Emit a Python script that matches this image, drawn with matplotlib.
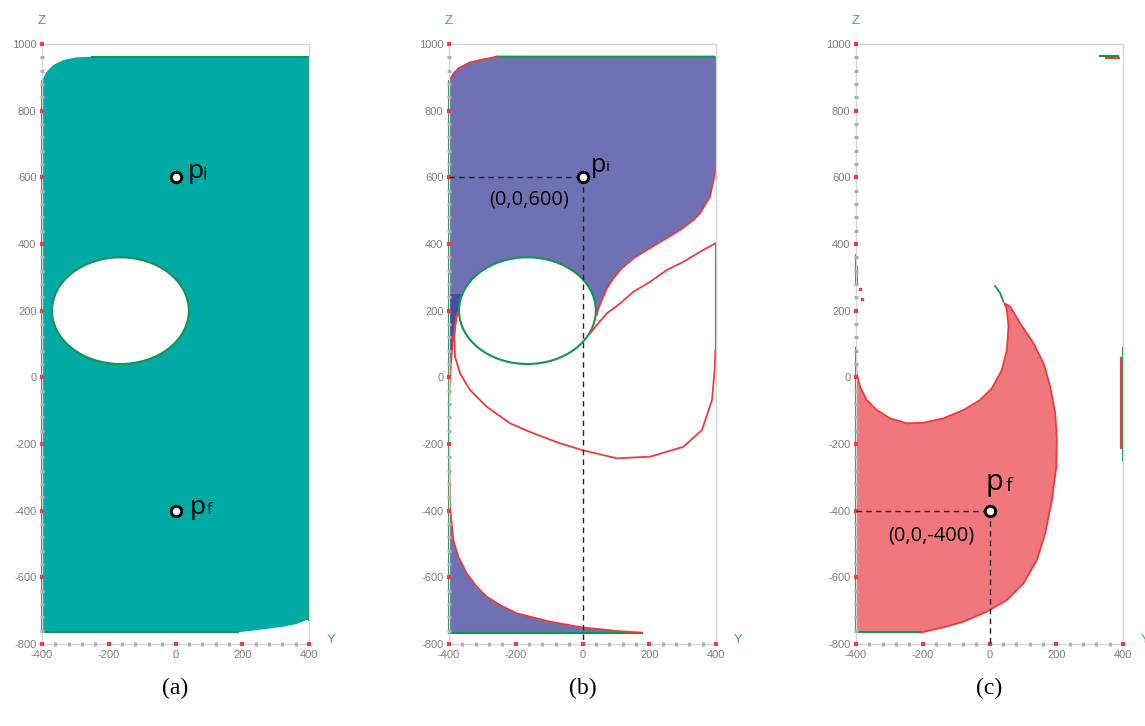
import matplotlib
matplotlib.use('Agg')
import matplotlib.pyplot as plt
from matplotlib.patches import Ellipse
from matplotlib.ticker import MultipleLocator, FixedLocator

plt.rcParams['axes.unicode_minus'] = False

# ---------------- data ----------------
Y_TICKS = [-400, -200, 0, 200, 400]
Z_TICKS = [-800, -600, -400, -200, 0, 200, 400, 600, 800, 1000]
Y_LIM = (-400, 400)
Z_LIM = (-800, 1000)
PANEL_LABELS = ['(a)', '(b)', '(c)']

# obstacle (elliptic hole)
HOLE_Y, HOLE_Z = -165, 200
HOLE_W, HOLE_H = 410, 320

# points
P_INIT = (0, 600)
P_FINAL = (0, -400)
P_INIT_TXT = '(0,0,600)'
P_FINAL_TXT = '(0,0,-400)'

# panel (a): reachable workspace outline
A_Y = [-400, -386, -366, -336, -296, -251, 398, 400, 393, 363, 323, 263, 186, -400]
A_Z = [890, 917, 937, 952, 960, 962, 962, -728, -728, -740, -748, -756, -765, -765]
A_GREEN_LEFT_Y, A_GREEN_LEFT_Z = [-400, -400], [890, -765]
A_GREEN_TOP_Y, A_GREEN_TOP_Z = [-251, 398], [962, 962]
A_GREEN_RIGHT_Y, A_GREEN_RIGHT_Z = [400, 400], [962, -728]
A_GREEN_BOT_Y, A_GREEN_BOT_Z = [-400, 186], [-765, -765]

# panel (b): upper blue region
B_TOPLEFT_Y = [-400, -386, -372, -337, -297, -257]
B_TOPLEFT_Z = [890, 912, 927, 945, 954, 962]
B_RIGHT_RED_Y = [400, 398, 392, 382, 352, 333, 293, 243, 193, 153, 118, 93, 73, 58, 48, 43]
B_RIGHT_RED_Z = [647, 620, 587, 542, 492, 472, 442, 412, 382, 357, 327, 297, 267, 232, 207, 187]
B_HOLE_LINK_Y = [-165, -355, -400]
B_HOLE_LINK_Z = [200, 250, 250]
# dark wedge along left edge
B_DARK_Y = [-400, -362, -370, -374, -385, -394, -400]
B_DARK_Z = [250, 250, 220, 187, 120, 60, 30]
B_LEFT_RED_Y = [-400, -397, -392, -386, -379, -374]
B_LEFT_RED_Z = [-90, 0, 70, 130, 175, 195]
# red curve from hole to right edge
B_MID_RED_Y = [23, 43, 73, 113, 153, 203, 253, 303, 353, 398]
B_MID_RED_Z = [132, 157, 192, 222, 257, 287, 322, 347, 377, 402]
# red loop
B_LOOP_Y = [-379, -384, -382, -367, -337, -287, -217, -147, -67, -2, 103, 203, 303, 358, 388, 396, 398]
B_LOOP_Z = [182, 122, 62, 12, -38, -88, -138, -168, -198, -218, -243, -238, -208, -158, -68, 22, 82]
B_RIGHT_GREEN_Y, B_RIGHT_GREEN_Z = [400, 400], [402, 82]
# lower blue region boundary (red curve)
B_LOW_Y = [-399, -397, -387, -372, -347, -317, -287, -247, -197, -97, -2, 103, 178]
B_LOW_Z = [-258, -388, -488, -538, -588, -628, -658, -683, -708, -733, -750, -761, -766]
B_GREEN_TOP_Y, B_GREEN_TOP_Z = [-257, 395, 400], [962, 962, 958]
B_GREEN_RIGHT_Y, B_GREEN_RIGHT_Z = [400, 400], [958, 647]
B_GREEN_LEFT_Y, B_GREEN_LEFT_Z = [-400, -400], [890, -765]
B_GREEN_BOT_Y, B_GREEN_BOT_Z = [-400, 178], [-767, -767]

# panel (c): red region (clockwise from left edge)
C_UPPER_Y = [-400, -398, -388, -368, -338, -298, -248, -198, -138, -78, -28, 7, 37, 52, 57, 52, 47, 45]
C_UPPER_Z = [57, 12, -28, -68, -98, -123, -138, -136, -123, -98, -68, -33, 22, 82, 152, 202, 217, 222]
C_RIGHT_Y = [45, 62, 92, 132, 162, 182, 197, 202, 200, 187, 167, 142, 102, 52, -8, -78, -138, -208]
C_RIGHT_Z = [222, 212, 162, 102, 42, -28, -108, -188, -268, -368, -468, -548, -618, -668, -703, -733, -750, -766]
C_HOOK_Y, C_HOOK_Z = [17, 32, 42], [274, 252, 227]
C_GREEN_BOT_Y, C_GREEN_BOT_Z = [-400, -208], [-765, -765]
C_GREEN_LEFT_Y, C_GREEN_LEFT_Z = [-400, -400], [-765, 87]
C_GREEN_LEFT2_Y, C_GREEN_LEFT2_Z = [-400, -400], [367, 282]
C_RED_LEFT2_Y, C_RED_LEFT2_Z = [-397, -397], [330, 280]
C_RED_DOTS_Y, C_RED_DOTS_Z = [-388, -381], [264, 236]
C_GREEN_RIGHT_Y, C_GREEN_RIGHT_Z = [400, 400], [87, -248]
C_RED_RIGHT_Y, C_RED_RIGHT_Z = [395, 395], [57, -213]
C_TOP_GREEN_Y, C_TOP_GREEN_Z = [331, 385], [963, 963]
C_TOP_RED_Y, C_TOP_RED_Z = [350, 388], [958, 958]

# ---------------- style ----------------
TEAL = '#00ABA6'
BLUE = '#6E72B4'
DARK_BLUE = '#4050A2'
RED_FILL = '#F0787C'
RED = '#EE3A3E'
GREEN = '#139450'
AXGREEN = '#3AAA6C'
TICKGRAY = '#7E7E7E'

W, H = 1145, 726
fig = plt.figure(figsize=(W / 100, H / 100), dpi=100)

LEFTS_PX = [42, 449, 856]
AX_W_PX, AX_TOP_PX, AX_BOT_PX = 267, 44, 644

axes = []
for lp in LEFTS_PX:
    ax = fig.add_axes([lp / W, (H - AX_BOT_PX) / H, AX_W_PX / W, (AX_BOT_PX - AX_TOP_PX) / H])
    ax.set_xlim(*Y_LIM)
    ax.set_ylim(*Z_LIM)
    ax.set_axisbelow(False)
    ax.xaxis.set_major_locator(FixedLocator(Y_TICKS))
    ax.yaxis.set_major_locator(FixedLocator(Z_TICKS))
    ax.xaxis.set_minor_locator(MultipleLocator(40))
    ax.yaxis.set_minor_locator(MultipleLocator(40))
    ax.set_xticklabels([str(t) for t in Y_TICKS])
    ax.set_yticklabels([str(t) for t in Z_TICKS])
    ax.tick_params(which='major', direction='inout', length=3.4, width=3.0, color='#EC4040',
                   labelsize=8, labelcolor=TICKGRAY, pad=2.3)
    ax.tick_params(which='minor', direction='inout', length=2.4, width=2.2, color='#B0B0B0')
    for lab in ax.get_xticklabels() + ax.get_yticklabels():
        lab.set_fontfamily('Liberation Sans')
    for s in ax.spines.values():
        s.set_color('#D6D6D6')
        s.set_linewidth(1)
    ax.text(0.0, 1.0 + 23 / 600, 'Z', transform=ax.transAxes, color=AXGREEN, fontsize=9.5,
            family='Liberation Sans', ha='center', va='center')
    ax.text(1.0 + 22 / 267, 4 / 600, 'Y', transform=ax.transAxes, color=AXGREEN, fontsize=9.5,
            family='Liberation Sans', ha='center', va='center', clip_on=False)
    axes.append(ax)

for ax, lab in zip(axes, PANEL_LABELS):
    pos = ax.get_position()
    fig.text(pos.x0 + pos.width / 2, (H - 688) / H, lab, ha='center', va='center',
             fontsize=17, family='Liberation Serif')


def mark_point(ax, pt, main, sub, p_off, s_off, p_size, s_size):
    ax.plot([pt[0]], [pt[1]], marker='o', ms=7.5, mfc='white', mec='black', mew=2.1,
            zorder=10, clip_on=False)
    ax.annotate(main, xy=pt, xytext=p_off, textcoords='offset pixels', ha='left',
                va='baseline', fontsize=p_size, family='Open Sans', zorder=11)
    ax.annotate(sub, xy=pt, xytext=s_off, textcoords='offset pixels', ha='left',
                va='baseline', fontsize=s_size, family='Open Sans', zorder=11)


def dashed_guides(ax, pt):
    ax.plot([Y_LIM[0], pt[0]], [pt[1], pt[1]], color='#222222', lw=1, ls=(0, (4, 3)), zorder=9)
    ax.plot([pt[0], pt[0]], [pt[1], Z_LIM[0]], color='#222222', lw=1, ls=(0, (4, 3)), zorder=9)


LZ = 2.2  # zorder for outline strokes (below tick marks)

# ---------------- panel (a) ----------------
ax = axes[0]
ax.fill(A_Y, A_Z, color=TEAL, lw=0, zorder=1)
ax.add_patch(Ellipse((HOLE_Y, HOLE_Z), HOLE_W, HOLE_H, fc='white', ec=GREEN, lw=1.5, zorder=2))
for yy, zz in [(A_GREEN_LEFT_Y, A_GREEN_LEFT_Z), (A_GREEN_TOP_Y, A_GREEN_TOP_Z),
               (A_GREEN_RIGHT_Y, A_GREEN_RIGHT_Z), (A_GREEN_BOT_Y, A_GREEN_BOT_Z)]:
    ax.plot(yy, zz, color=GREEN, lw=1.5, zorder=LZ, clip_on=False)
mark_point(ax, P_INIT, 'p', 'i', (12, -1), (27, -3), 19, 13)
mark_point(ax, P_FINAL, 'p', 'f', (14, -3), (31, -3), 19, 11.5)

# ---------------- panel (b) ----------------
ax = axes[1]
b_y = B_TOPLEFT_Y + B_GREEN_TOP_Y[1:] + B_RIGHT_RED_Y + B_HOLE_LINK_Y
b_z = B_TOPLEFT_Z + B_GREEN_TOP_Z[1:] + B_RIGHT_RED_Z + B_HOLE_LINK_Z
ax.fill(b_y, b_z, color=BLUE, lw=0, zorder=1)
ax.fill(B_DARK_Y, B_DARK_Z, color=DARK_BLUE, lw=0, zorder=1)
ax.fill(B_LOW_Y + [B_LOW_Y[-1], -400], B_LOW_Z + [-767, -767], color=BLUE, lw=0, zorder=1)
ax.add_patch(Ellipse((HOLE_Y, HOLE_Z), HOLE_W, HOLE_H, fc='white', ec=GREEN, lw=1.5, zorder=2))
for yy, zz in [(B_TOPLEFT_Y, B_TOPLEFT_Z), (B_RIGHT_RED_Y, B_RIGHT_RED_Z),
               (B_LEFT_RED_Y, B_LEFT_RED_Z), (B_MID_RED_Y, B_MID_RED_Z),
               (B_LOOP_Y, B_LOOP_Z), (B_LOW_Y, B_LOW_Z)]:
    ax.plot(yy, zz, color=RED, lw=1.3, zorder=LZ + 0.1)
for yy, zz in [(B_GREEN_TOP_Y, B_GREEN_TOP_Z), (B_GREEN_RIGHT_Y, B_GREEN_RIGHT_Z),
               (B_GREEN_LEFT_Y, B_GREEN_LEFT_Z), (B_GREEN_BOT_Y, B_GREEN_BOT_Z),
               (B_RIGHT_GREEN_Y, B_RIGHT_GREEN_Z)]:
    ax.plot(yy, zz, color=GREEN, lw=1.5, zorder=LZ, clip_on=False)
dashed_guides(ax, P_INIT)
mark_point(ax, P_INIT, 'p', 'i', (8, 5), (23, 6), 18, 11)
ax.text(-160, 535, P_INIT_TXT, ha='center', va='center', fontsize=14.5, family='Open Sans', zorder=11)

# ---------------- panel (c) ----------------
ax = axes[2]
c_y = C_UPPER_Y + C_RIGHT_Y + [-400]
c_z = C_UPPER_Z + C_RIGHT_Z + [-765]
ax.fill(c_y, c_z, fc=RED_FILL, ec='none', zorder=1)
ax.plot(C_UPPER_Y + C_RIGHT_Y, C_UPPER_Z + C_RIGHT_Z, color=RED, lw=1.3, zorder=LZ + 0.1)
ax.plot(C_HOOK_Y, C_HOOK_Z, color=GREEN, lw=1.3, zorder=LZ)
for yy, zz in [(C_GREEN_BOT_Y, C_GREEN_BOT_Z), (C_GREEN_LEFT_Y, C_GREEN_LEFT_Z),
               (C_GREEN_LEFT2_Y, C_GREEN_LEFT2_Z), (C_GREEN_RIGHT_Y, C_GREEN_RIGHT_Z),
               (C_TOP_GREEN_Y, C_TOP_GREEN_Z)]:
    ax.plot(yy, zz, color=GREEN, lw=1.5, zorder=LZ, clip_on=False)
for yy, zz in [(C_RED_LEFT2_Y, C_RED_LEFT2_Z), (C_RED_RIGHT_Y, C_RED_RIGHT_Z),
               (C_TOP_RED_Y, C_TOP_RED_Z)]:
    ax.plot(yy, zz, color=RED, lw=1.5, zorder=LZ + 0.1)
ax.plot(C_RED_DOTS_Y, C_RED_DOTS_Z, ls='none', marker='s', ms=1.6, color=RED, zorder=LZ + 0.1)
dashed_guides(ax, P_FINAL)
mark_point(ax, P_FINAL, 'p', 'f', (-4, 21), (16, 20), 21, 14)
ax.text(-175, -473, P_FINAL_TXT, ha='center', va='center', fontsize=14.5, family='Open Sans', zorder=11)

fig.savefig('out.png', dpi=100)
